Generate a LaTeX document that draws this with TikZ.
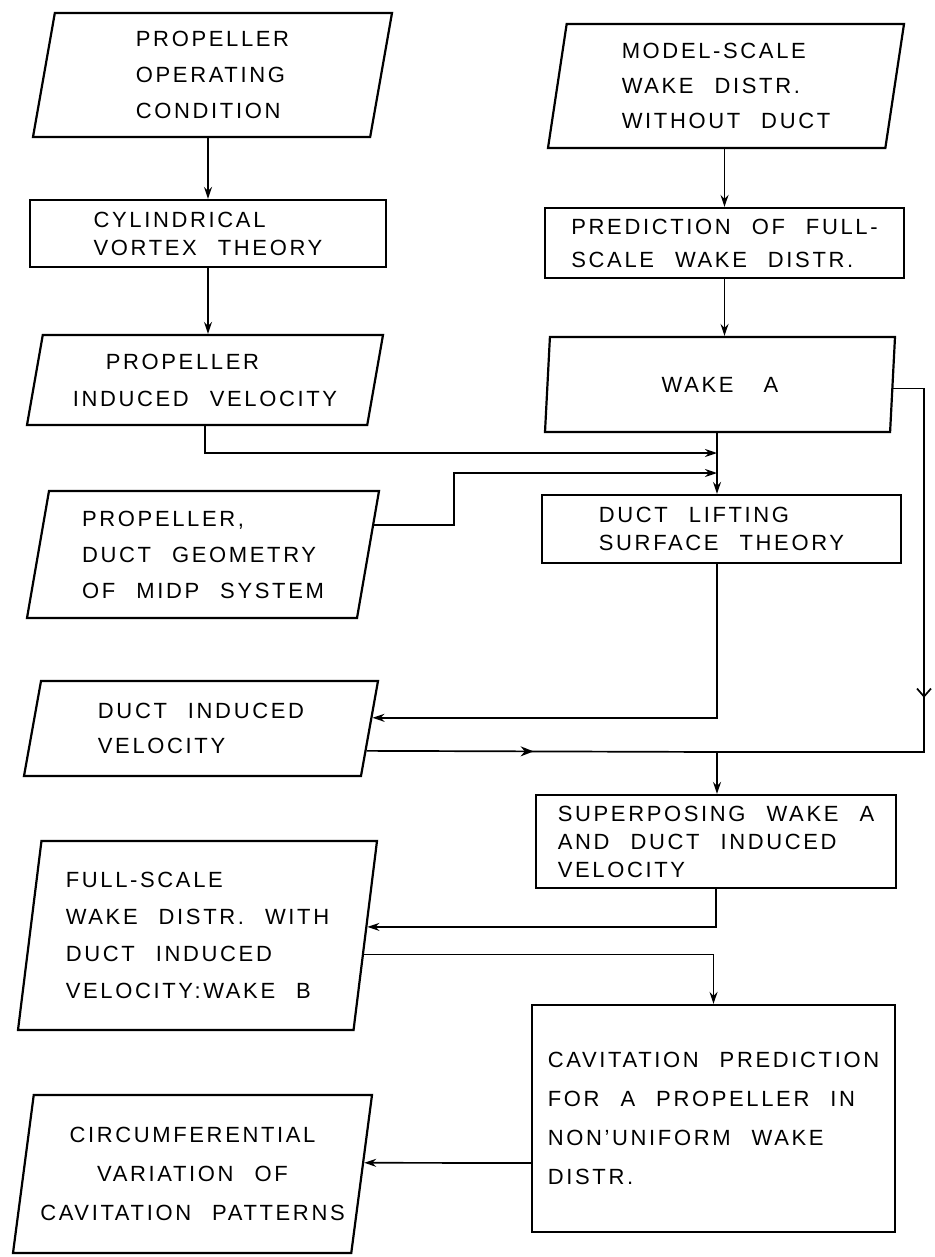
\documentclass[tikz,border=0pt]{standalone}
\usepackage{fontspec}
\setmainfont{Liberation Sans}[LetterSpace=12,WordSpace=2.4]
\usetikzlibrary{shapes.geometric,arrows.meta,calc,decorations.markings}

\begin{document}
\begin{tikzpicture}[x=1pt,y=-1pt,
  txt/.style={font=\fontsize{22}{#1}\selectfont},
  box/.style={draw,line width=2.2pt,inner sep=0pt,align=left},
  rbox/.style={box,rectangle},
  pbox/.style={box,trapezium,trapezium stretches body},
  conn/.style={line width=1.7pt},
  arr/.style={conn,-{Stealth[length=12pt,width=8pt]}},
  midtip/.style 2 args={postaction={decorate,decoration={markings,
      mark=at position #1 with {\arrow{#2}}}}}
]
\path[fill=white] (0,0) rectangle (934,1257);

% left column
\node[pbox,txt=36,minimum width=359pt,minimum height=124pt,
      trapezium left angle=76,trapezium right angle=104] (b1) at (212.5,75)
  {PROPELLER\\OPERATING\\CONDITION};
\node[rbox,txt=28,minimum width=356pt,minimum height=67pt] (b2) at (208,233.5)
  {CYLINDRICAL\\VORTEX THEORY};
\node[pbox,txt=37,minimum width=356pt,minimum height=90pt,
      trapezium left angle=73.3,trapezium right angle=106.7] (b3) at (205,380)
  {\hspace*{33pt}PROPELLER\\INDUCED VELOCITY};
\node[pbox,txt=36,minimum width=352pt,minimum height=127pt,
      trapezium left angle=75.9,trapezium right angle=104.1] (b7) at (203,554.5)
  {PROPELLER,\\DUCT GEOMETRY\\OF MIDP SYSTEM};
\node[pbox,txt=35,minimum width=354pt,minimum height=95pt,
      trapezium left angle=71.4,trapezium right angle=108.6] (b9) at (201,728.5)
  {DUCT INDUCED\\VELOCITY};
\node[pbox,txt=37,minimum width=359pt,minimum height=189pt,
      trapezium left angle=79.5,trapezium right angle=100.5] (b11) at (197.5,935.5)
  {FULL-SCALE\\WAKE DISTR. WITH\\DUCT INDUCED\\VELOCITY:WAKE B};
\node[pbox,txt=39,align=center,minimum width=359pt,minimum height=158pt,
      trapezium left angle=77.5,trapezium right angle=102.5] (b13) at (192.5,1174)
  {CIRCUMFERENTIAL\\VARIATION OF\\CAVITATION PATTERNS};

% right column
\node[pbox,txt=35,minimum width=356pt,minimum height=124pt,
      trapezium left angle=77.7,trapezium right angle=102.3] (b4) at (726,86)
  {MODEL-SCALE\\WAKE DISTR.\\WITHOUT DUCT};
\node[rbox,txt=33,minimum width=359pt,minimum height=70pt] (b5) at (724.5,243)
  {PREDICTION OF FULL-\\SCALE WAKE DISTR.};
\node[pbox,txt=30,minimum width=350pt,minimum height=95pt,
      trapezium left angle=72,trapezium right angle=108] (b6) at (720,384.5)
  {WAKE\hspace{30pt}A};
\node[rbox,txt=28,minimum width=359pt,minimum height=68pt] (b8) at (721.5,529)
  {DUCT LIFTING\\SURFACE THEORY};
\node[rbox,txt=28,minimum width=360pt,minimum height=93pt] (b10) at (716,841.5)
  {SUPERPOSING WAKE A\\AND DUCT INDUCED\\VELOCITY};
\node[rbox,txt=39,minimum width=363pt,minimum height=227pt] (b12) at (713.5,1118.5)
  {CAVITATION PREDICTION\\FOR A PROPELLER IN\\NON'UNIFORM WAKE\\DISTR.};

% junctions and edge points
\coordinate (j1) at (717,453);
\coordinate (j2) at (717,473);
\coordinate (j3) at (717,752);
\coordinate (rc) at (924,752);
\coordinate (b7r)  at ($(b7.top right corner)!0.27!(b7.bottom right corner)$);
\coordinate (b9r1) at ($(b9.top right corner)!0.39!(b9.bottom right corner)$);
\coordinate (b9r2) at ($(b9.top right corner)!0.73!(b9.bottom right corner)$);
\coordinate (b6r)  at ($(b6.top right corner)!0.54!(b6.bottom right corner)$);
\coordinate (b11r1) at ($(b11.top right corner)!0.455!(b11.bottom right corner)$);
\coordinate (b11r2) at ($(b11.top right corner)!0.6!(b11.bottom right corner)$);
\coordinate (b13r) at ($(b13.top right corner)!0.43!(b13.bottom right corner)$);

% connectors
\draw[arr] (b2.north |- b1.south) -- (b2.north);
\draw[arr] (b2.south) -- (b2.south |- b3.north);
\draw[arr] (b5.north |- b4.south) -- (b5.north);
\draw[arr] (b5.south) -- (b5.south |- b6.north);
\draw[arr] (j1 |- b6.south) -- (j1 |- b8.north);
\draw[arr] (b3.south) |- (j1);
\draw[arr] (b7r) -- ++(80,0) |- (j2);
\draw[arr] (j1 |- b8.south) |- (b9r1);
\draw[conn,midtip={167pt}{Stealth[length=13pt,width=10pt]}] (b9r2) -- (j3);
\draw[conn,midtip={340pt}{Straight Barb[length=8pt,width=14pt]}] (b6r) -| (rc) -- (j3);
\draw[arr] (j3) -- (j3 |- b10.north);
\draw[arr] (b10.south) |- (b11r1);
\draw[arr] (b11r2) -| (b12.north);
\draw[arr] ([yshift=-44.5pt]b12.west) -- (b13r);
\end{tikzpicture}
\end{document}
